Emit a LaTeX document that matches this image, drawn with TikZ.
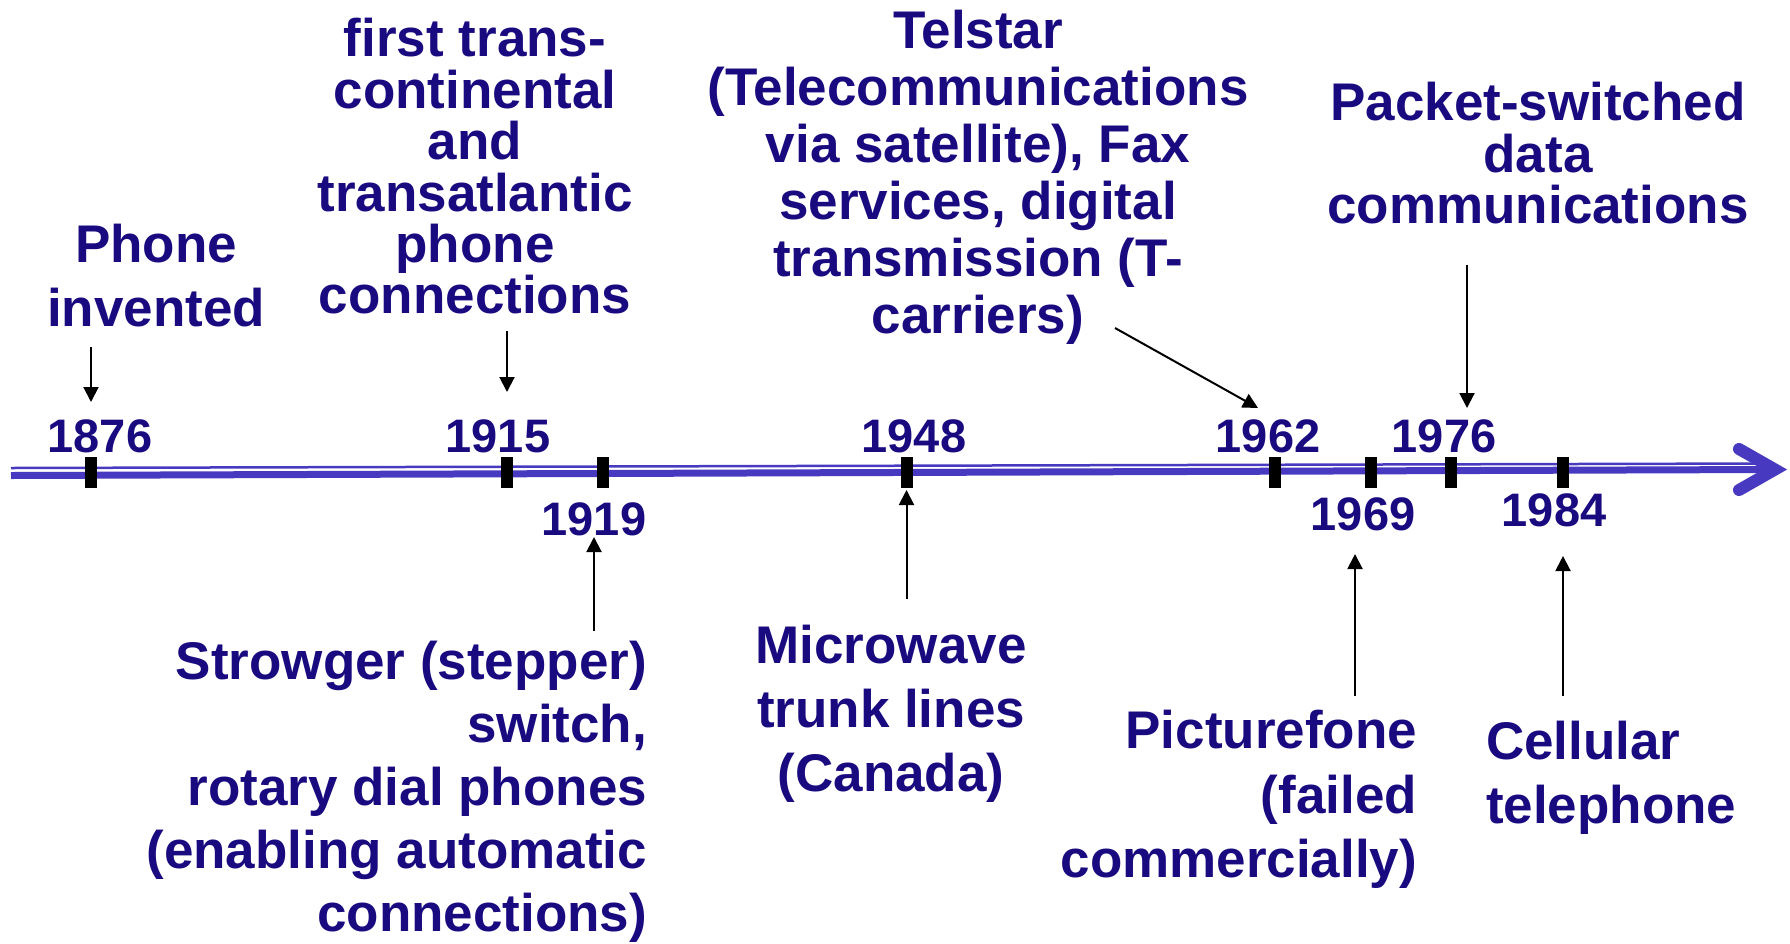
\documentclass[tikz,border=0pt]{standalone}
\usepackage{fontspec}
\setmainfont{Liberation Sans}
\usetikzlibrary{arrows.meta}
\definecolor{navy}{RGB}{26,10,128}
\definecolor{axisblue}{RGB}{72,58,192}
\begin{document}
\begin{tikzpicture}[x=1pt,y=-1pt,
  lbl/.style={text=navy, inner sep=0pt, outer sep=0pt},
  fs/.style={font=\bfseries\fontsize{53}{#1}\selectfont},
  yr/.style={text=navy, font=\bfseries\fontsize{47}{47}\selectfont, inner sep=0pt, anchor=base},
  tickmark/.style={fill=black, minimum width=12pt, minimum height=31pt, inner sep=0pt, outer sep=0pt},
  ptr/.style={draw=black, line width=2pt, -{Triangle[length=15pt,width=15pt]}}]
\useasboundingbox (0,0) rectangle (1790,943);

% axis
\draw[axisblue, line width=7pt] (11,475.5) -- (1770,469.5);
\draw[axisblue, line width=2.5pt] (11,468) -- (1770,463.5);
\draw[axisblue, line width=12pt, line cap=round, miter limit=10] (1739,449) -- (1775,469.5) -- (1739,490);

% ticks
\node[tickmark] (t1876) at (91,472.5) {};
\node[tickmark] (t1915) at (507,472.5) {};
\node[tickmark] (t1919) at (603,472.5) {};
\node[tickmark] (t1948) at (906.5,472.5) {};
\node[tickmark] (t1962) at (1275,472.5) {};
\node[tickmark] (t1969) at (1371,472.5) {};
\node[tickmark] (t1976) at (1451,472.5) {};
\node[tickmark] (t1984) at (1563,472.5) {};

% years
\node[yr] (y1876) at (100,452) {1876};
\node[yr] (y1915) at (498,452) {1915};
\node[yr] (y1919) at (594,535) {1919};
\node[yr] (y1948) at (914,452) {1948};
\node[yr] (y1962) at (1268,452) {1962};
\node[yr] (y1969) at (1363,530) {1969};
\node[yr] (y1976) at (1444,452) {1976};
\node[yr] (y1984) at (1554,526) {1984};

% labels above
\node[lbl, fs=64, align=center, anchor=north] (phone) at (156,224.5) {Phone\\invented};
\node[lbl, fs=51.4, align=center, anchor=north] (trans) at (475,18.5) {first trans-\\continental\\and\\transatlantic\\phone\\connections};
\node[lbl, fs=57, align=center, anchor=north] (telstar) at (978,10.5) {Telstar\\(Telecommunications\\via satellite), Fax\\services, digital\\transmission (T-\\carriers)};
\node[lbl, fs=51.4, align=center, anchor=north] (packet) at (1538,82.5) {Packet-switched\\data\\communications};

% labels below
\node[lbl, fs=63, align=right, anchor=north east] (strowger) at (647,641.5) {Strowger (stepper)\\switch,\\rotary dial phones\\(enabling automatic\\connections)};
\node[lbl, fs=64, align=center, anchor=north] (micro) at (891,625.5) {Microwave\\trunk lines\\(Canada)};
\node[lbl, fs=64.5, align=right, anchor=north east] (picture) at (1417,710.5) {Picturefone\\(failed\\commercially)};
\node[lbl, fs=64, align=left, anchor=north west] (cell) at (1486,721.5) {Cellular\\telephone};

% connectors
\coordinate (p1) at (91,347);   \coordinate (q1) at (91,402);
\coordinate (p2) at (507,331);  \coordinate (q2) at (507,392);
\coordinate (p3) at (1115,328); \coordinate (q3) at (1258,408);
\coordinate (p4) at (1467,265); \coordinate (q4) at (1467,408);
\coordinate (p5) at (594,631);  \coordinate (q5) at (594,537);
\coordinate (p6) at (906.5,599);\coordinate (q6) at (906.5,490);
\coordinate (p7) at (1355,696); \coordinate (q7) at (1355,554);
\coordinate (p8) at (1563,696); \coordinate (q8) at (1563,556);
\draw[ptr] (p1) -- (q1);
\draw[ptr] (p2) -- (q2);
\draw[ptr] (p3) -- (q3);
\draw[ptr] (p4) -- (q4);
\draw[ptr] (p5) -- (q5);
\draw[ptr] (p6) -- (q6);
\draw[ptr] (p7) -- (q7);
\draw[ptr] (p8) -- (q8);
\end{tikzpicture}
\end{document}
